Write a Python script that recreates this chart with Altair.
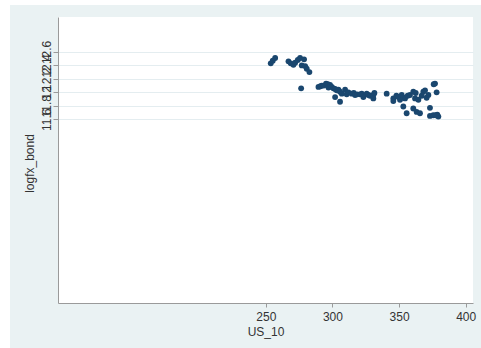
import altair as alt
import pandas as pd

# 10-year US yield (x) against log FX of the bond (y)
us_10 = [
    253.7, 255.2, 257.0, 267.0, 268.7, 270.7, 272.0, 274.0, 275.7, 278.7,
    277.0, 279.5, 280.7, 282.7, 276.5, 289.5, 291.0, 292.0, 293.5, 295.2,
    296.5, 298.2, 297.0, 299.5, 300.7, 302.0, 303.2, 304.5, 302.0, 305.7,
    305.7, 307.0, 309.5, 310.7, 312.0, 314.5, 316.0, 317.0, 318.5, 320.7,
    322.0, 323.2, 325.7, 327.0, 328.2, 330.7, 330.7, 331.5, 340.7, 345.7,
    345.7, 348.0, 349.5, 350.7, 352.0, 353.2, 354.5, 353.2, 355.7, 356.5,
    358.2, 360.7, 362.0, 360.7, 363.2, 362.5, 364.5, 365.7, 367.0, 368.2,
    369.5, 370.7, 372.0, 373.2, 373.2, 375.7, 377.0, 376.0, 378.2, 378.7,
    379.5, 377.5,
]
logfx_bond = [
    12.43, 12.47, 12.51, 12.46, 12.43, 12.41, 12.44, 12.48, 12.51, 12.49,
    12.40, 12.39, 12.35, 12.30, 12.06, 12.08, 12.09, 12.10, 12.10, 12.13,
    12.12, 12.11, 12.07, 12.08, 12.06, 12.05, 12.03, 12.04, 11.93, 11.86,
    12.01, 11.98, 12.04, 11.97, 12.00, 11.98, 11.99, 11.96, 11.97, 11.97,
    11.98, 11.93, 11.98, 11.96, 11.95, 11.96, 11.91, 11.99, 11.98, 11.91,
    11.87, 11.95, 11.93, 11.89, 11.96, 11.92, 11.91, 11.79, 11.69, 11.95,
    11.96, 12.01, 11.91, 11.76, 11.71, 11.99, 11.89, 11.69, 11.95, 12.01,
    12.03, 11.92, 11.96, 11.77, 11.65, 11.66, 12.13, 12.12, 12.00, 11.67,
    11.64, 11.66,
]

x_ticks = [250, 300, 350, 400]
y_ticks = [11.6, 11.8, 12.0, 12.2, 12.4, 12.6]

df = pd.DataFrame({"US_10": us_10, "logfx_bond": logfx_bond})

W, H = 415, 286
PAD_L, PAD_T, PAD_R, PAD_B = 58, 17, 8, 45
FONT = "Liberation Sans"
AXIS_GREY = "#9a9a9a"
TEXT = "#333333"
NAVY = "#1a476f"

points = alt.Chart(df).mark_circle(size=34, opacity=1, color=NAVY).encode(
    x=alt.X(
        "US_10:Q",
        scale=alt.Scale(domain=[94, 405.5], nice=False, zero=False),
        axis=alt.Axis(
            values=x_ticks,
            format="d",
            grid=False,
            tickSize=4,
            labelPadding=4,
            labelFontSize=12,
            titleFontSize=12,
            titleFontWeight="normal",
            titleBaseline="alphabetic",
            titleY=32,
        ),
        title="US_10",
    ),
    y=alt.Y(
        "logfx_bond:Q",
        scale=alt.Scale(domain=[8.874, 13.118], nice=False, zero=False),
        axis=alt.Axis(
            values=y_ticks,
            format=".3~g",
            grid=True,
            gridColor="#e4edf0",
            gridWidth=1,
            tickSize=5,
            labelAngle=270,
            labelAlign="center",
            labelBaseline="alphabetic",
            labelPadding=3,
            labelOverlap=False,
            labelBound=False,
            labelFlush=False,
            labelFontSize=12,
            titleFontSize=12,
            titleFontWeight="normal",
            titleAngle=270,
            titleAlign="center",
            titleBaseline="alphabetic",
            titleX=-25,
            titleY=H / 2 + 3,
        ),
        title="logfx_bond",
    ),
)

# thin white margin along the top and left edges of the canvas
blank = alt.Data(values=[{}])
top_strip = alt.Chart(blank).mark_rect(color="white").encode(
    x=alt.value(-PAD_L), x2=alt.value(W + PAD_R),
    y=alt.value(-PAD_T), y2=alt.value(-PAD_T + 5),
)
left_strip = alt.Chart(blank).mark_rect(color="white").encode(
    x=alt.value(-PAD_L), x2=alt.value(-PAD_L + 10),
    y=alt.value(-PAD_T), y2=alt.value(H + PAD_B),
)

chart = (
    alt.layer(top_strip, left_strip, points)
    .properties(
        width=W,
        height=H,
        autosize=alt.AutoSizeParams(type="none"),
        padding={"left": PAD_L, "top": PAD_T, "right": PAD_R, "bottom": PAD_B},
        background="#eaf2f3",
    )
    .configure_view(fill="white", stroke=None)
    .configure_axis(
        domainColor=AXIS_GREY,
        tickColor=AXIS_GREY,
        labelColor=TEXT,
        titleColor=TEXT,
        labelFont=FONT,
        titleFont=FONT,
    )
)

chart.save("out.html", embed_options={"renderer": "svg", "actions": False})
